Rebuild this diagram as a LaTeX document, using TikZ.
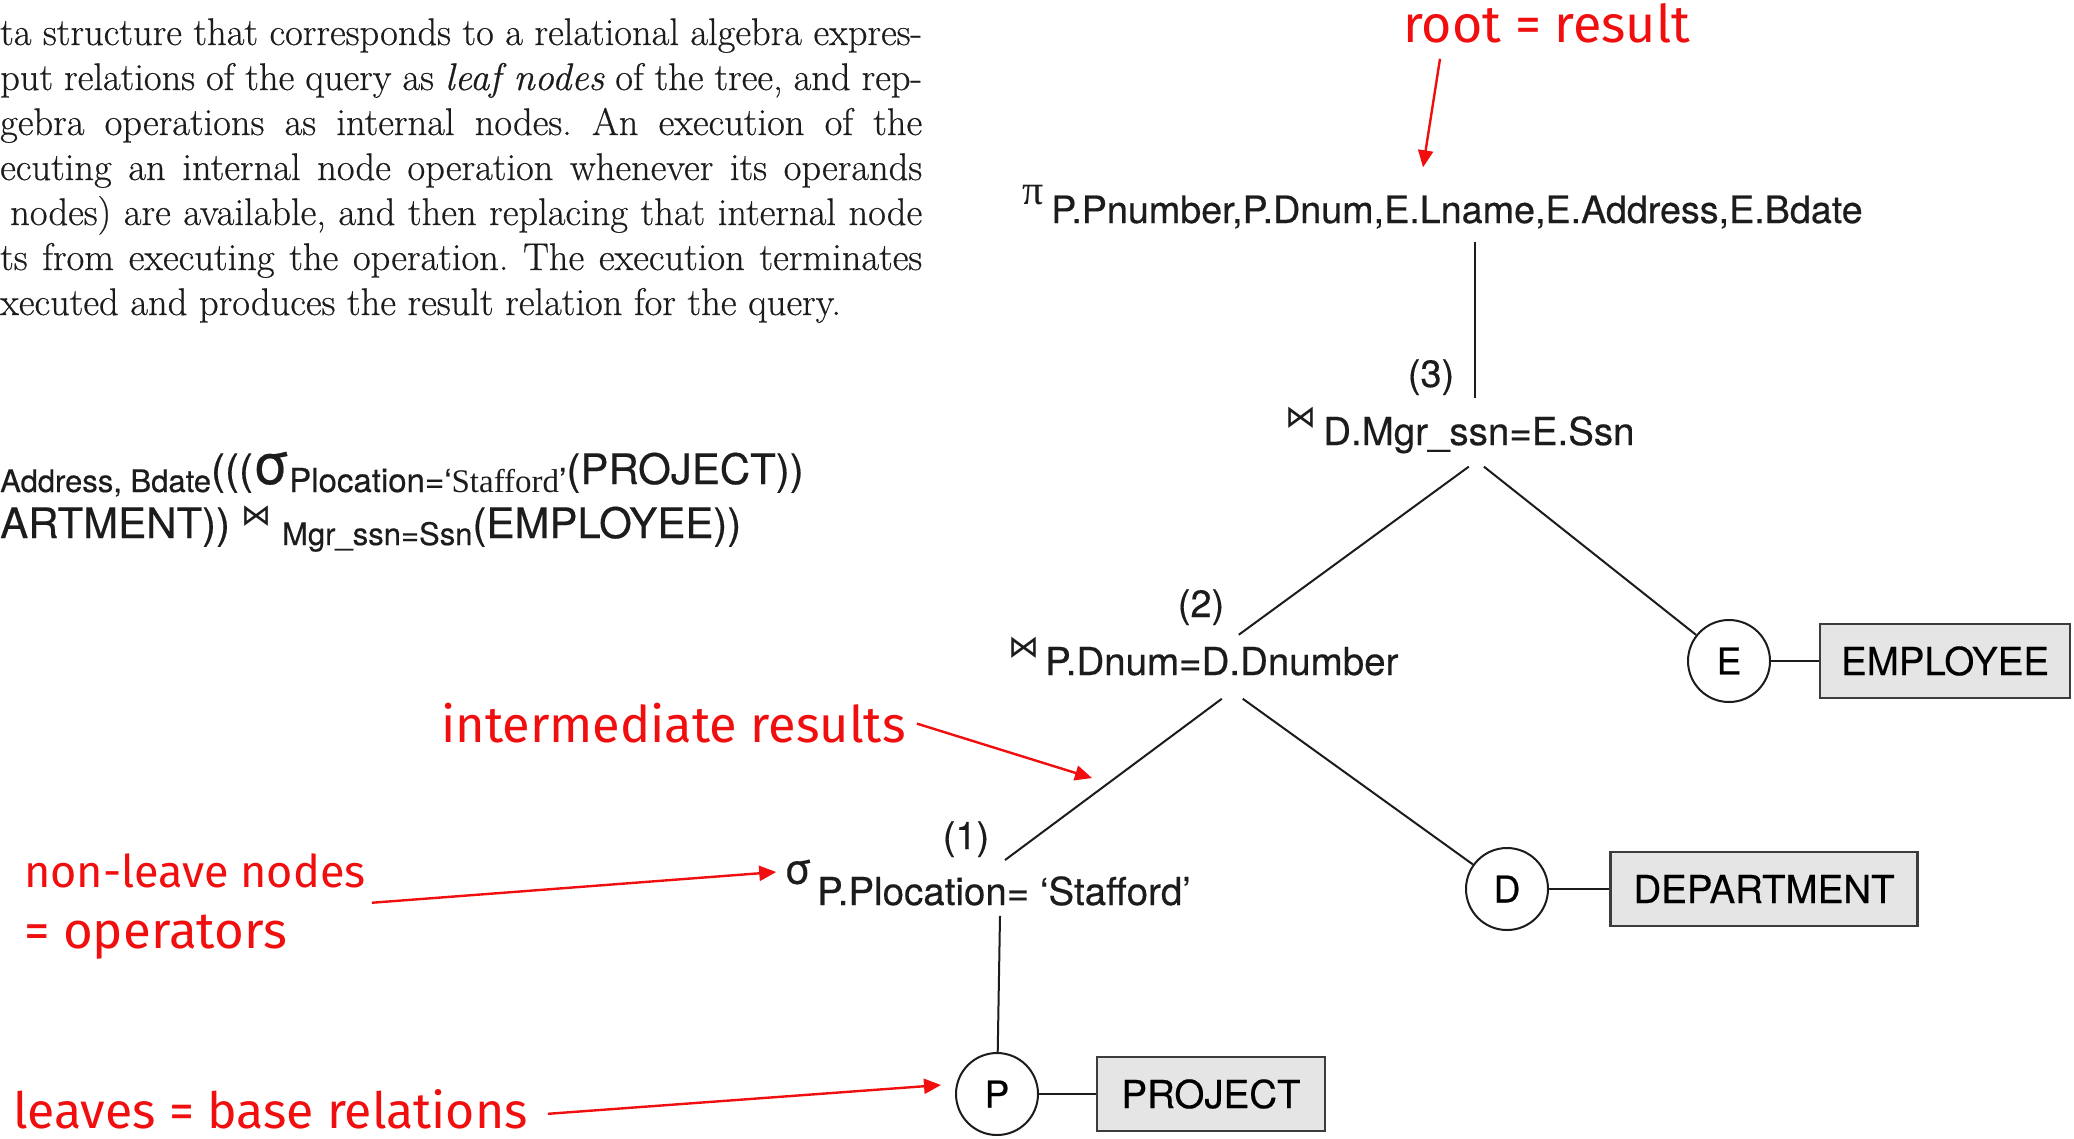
\documentclass[tikz,border=0pt]{standalone}
\usepackage{fontspec}
\setmainfont{Latin Modern Roman}[FakeBold=0.5]
\newfontfamily\treefont{TeX Gyre Heros}[FakeBold=0.4]
\newfontfamily\notefont{Fira Sans}
\newfontfamily\quotefont{Liberation Serif}
\newfontfamily\symbolfont{DejaVu Sans}
\usetikzlibrary{arrows.meta,calc}

\definecolor{ink}{RGB}{28,28,28}
\definecolor{notered}{RGB}{240,14,14}
\definecolor{boxfill}{RGB}{229,229,229}
\definecolor{boxline}{RGB}{60,60,60}

% pieces of the inline algebra expression
\newcommand\exbig[1]{{\fontsize{42}{48}\selectfont #1}}
\newcommand\exsub[2][31]{\raisebox{-8pt}{\fontsize{#1}{36}\selectfont #2}}
\newcommand\joinsym{{\symbolfont ⋈}}

\tikzset{
  body/.style={anchor=base west, inner sep=0pt, text=ink, font=\fontsize{38.5}{45}\selectfont},
  expr/.style={anchor=base west, inner sep=0pt, text=ink, font=\treefont},
  oplab/.style={anchor=base west, inner sep=0pt, text=ink, font=\treefont\fontsize{38.5}{44}\selectfont},
  stepnum/.style={anchor=base, inner sep=0pt, text=ink, font=\treefont\fontsize{38}{44}\selectfont},
  opsym/.style={inner sep=0pt, text=ink},
  leaf/.style={circle, draw=ink, line width=2pt, minimum size=82pt, inner sep=0pt,
    font=\treefont\fontsize{37}{40}\selectfont},
  rel/.style={draw=boxline, line width=2.5pt, fill=boxfill, minimum height=74pt, inner sep=0pt,
    font=\treefont\fontsize{38.5}{44}\selectfont},
  edge/.style={draw=ink, line width=2pt},
  note/.style={anchor=base west, inner sep=0pt, text=notered, font=\notefont\fontsize{#1}{56}\selectfont},
  note/.default=48,
  notearrow/.style={draw=notered, line width=2.4pt, -{Triangle[length=17pt,width=15pt]}},
}

\begin{document}
\begin{tikzpicture}[x=1pt, y=-1pt]
\useasboundingbox (0,0) rectangle (2074,1138);
\fill[white] (0,0) rectangle (2074,1138);

% running text of the page
\frenchspacing
\node[body] (t1) at (0,45)  {\makebox[922pt][s]{ta structure that corresponds to a relational algebra expres-}};
\node[body] (t2) at (0,90)  {\makebox[922pt][s]{put relations of the query as \textit{leaf nodes} of the tree, and rep-}};
\node[body] (t3) at (0,135) {\makebox[922pt][s]{gebra operations as internal nodes. An execution of the}};
\node[body] (t4) at (0,180) {\makebox[922pt][s]{ecuting an internal node operation whenever its operands}};
\node[body] (t5) at (0,225) {\makebox[922pt][s]{\hspace*{10pt}nodes) are available, and then replacing that internal node}};
\node[body] (t6) at (0,270) {\makebox[922pt][s]{ts from executing the operation. The execution terminates}};
\node[body] (t7) at (0,315) {xecuted and produces the result relation for the query.};

% the algebra expression
\node[expr] (f1) at (0,484) {\exsub{Address, Bdate}\exbig{(((}{\fontsize{56}{56}\selectfont σ}\exsub[33]{Plocation=‘{\quotefont Stafford}’}\exbig{(PROJECT))}};
\node[expr] (f2) at (0,538) {\exbig{ARTMENT))}\hspace{11pt}\raisebox{13pt}{\fontsize{30}{30}\selectfont\joinsym}\hspace{11pt}\raisebox{1pt}{\exsub{Mgr\_ssn=Ssn}}\exbig{(EMPLOYEE))}};

% query tree: operators
\node[opsym, font=\quotefont\fontsize{42}{42}\selectfont] (pisym) at (1033,195) {π};
\node[oplab, font=\treefont\fontsize{37.7}{44}\selectfont] (root) at (1051,223) {P.Pnumber,P.Dnum,E.Lname,E.Address,E.Bdate};
\node[stepnum] (n3) at (1431,387) {(3)};
\node[opsym, font=\fontsize{31}{31}\selectfont] (j3sym) at (1301,418) {\joinsym};
\node[oplab] (j3) at (1323,445) {D.Mgr\_ssn=E.Ssn};
\node[stepnum] (n2) at (1201,617) {(2)};
\node[opsym, font=\fontsize{31}{31}\selectfont] (j2sym) at (1024,648) {\joinsym};
\node[oplab] (j2) at (1045,675) {P.Dnum=D.Dnumber};
\node[stepnum] (n1) at (966,849) {(1)};
\node[opsym, font=\treefont\fontsize{42}{42}\selectfont] (selsym) at (798,872) {σ};
\node[oplab] (sel) at (817,905) {P.Plocation= ‘Stafford’};

% query tree: leaves and base relations
\node[leaf] (E) at (1729,661) {E};
\node[rel, minimum width=250pt] (EMP) at (1945,661) {EMPLOYEE};
\node[leaf] (D) at (1507,889) {D};
\node[rel, minimum width=307pt] (DEP) at (1764,889) {DEPARTMENT};
\node[leaf] (P) at (997,1094) {P};
\node[rel, minimum width=228pt] (PRJ) at (1211,1094) {PROJECT};

% tree edges
\draw[edge] ($(root.south -| j3.north)+(-4,13)$) -- ($(j3.north)+(-4,-18)$);
\draw[edge] ($(j3.south)+(-10,13)$) -- ($(j2.north)+(17,-12)$);
\draw[edge] ($(j3.south)+(5,13)$) -- (E);
\draw[edge] ($(j2.south)+(0,23)$) -- ($(sel.north)+(1,-16)$);
\draw[edge] ($(j2.south)+(21,23)$) -- (D);
\draw[edge] ($(sel.south)+(-4,10)$) -- (P);
\draw[edge] (E) -- (EMP);
\draw[edge] (D) -- (DEP);
\draw[edge] (P) -- (PRJ);

% annotations
\node[note=52] (nroot) at (1403,42) {root = result};
\draw[notearrow] ($(nroot.south west)+(37,16)$) -- ($(root.north west)+(372,-28)$);
\node[note=50.5] (ninter) at (441,742) {intermediate results};
\draw[notearrow] ($(ninter.east)+(11,1)$) -- ($(sel.north)+(88,-98)$);
\node[note=45] (nnonleaf) at (24,887) {non-leave nodes};
\node[note=51] (nops) at (24,948) {= operators};
\draw[notearrow] ($(nnonleaf.south east)+(6,15)$) -- ($(selsym.west)+(-8,0)$);
\node[note=50] (nleaves) at (13,1128) {leaves = base relations};
\draw[notearrow] ($(nleaves.east)+(20,5)$) -- ($(P.west)+(-14,-9)$);
\end{tikzpicture}
\end{document}
